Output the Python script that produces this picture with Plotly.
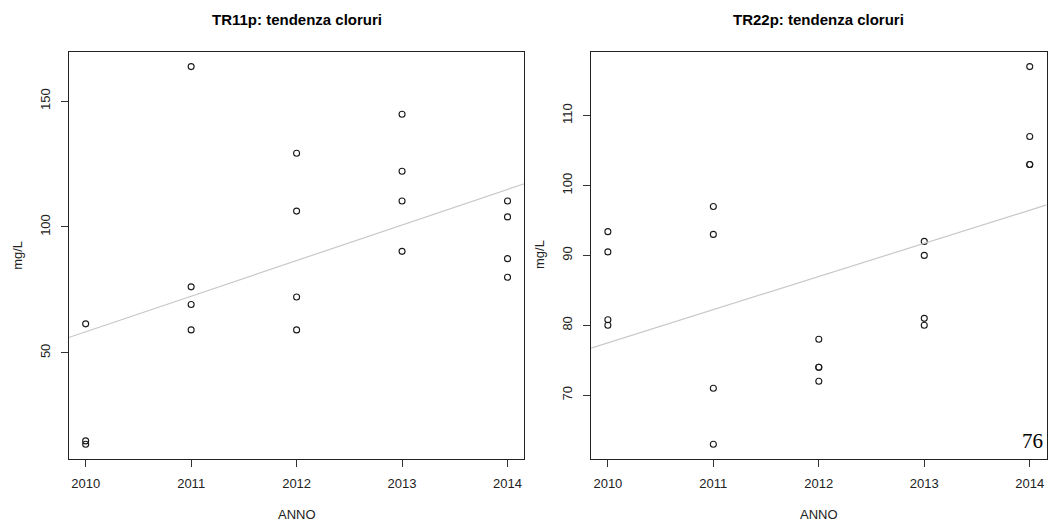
import numpy as np
import plotly.graph_objects as go

# ---- data ----
years = [2010, 2011, 2012, 2013, 2014]

tr11_year = [2010, 2010, 2010,
             2011, 2011, 2011, 2011,
             2012, 2012, 2012, 2012,
             2013, 2013, 2013, 2013,
             2014, 2014, 2014, 2014]
tr11_cl = [61.5, 15.0, 13.7,
           163.7, 76.2, 69.2, 59.1,
           129.3, 106.3, 72.2, 59.1,
           144.8, 122.1, 110.3, 90.3,
           110.3, 104.0, 87.4, 80.0]

tr22_year = [2010, 2010, 2010, 2010,
             2011, 2011, 2011, 2011,
             2012, 2012, 2012, 2012,
             2013, 2013, 2013, 2013,
             2014, 2014, 2014, 2014]
tr22_cl = [93.4, 90.5, 80.8, 80.0,
           97.0, 93.0, 71.0, 63.0,
           78.0, 74.0, 74.0, 72.0,
           92.0, 90.0, 81.0, 80.0,
           117.0, 107.0, 103.0, 103.0]

titles = ["TR11p: tendenza cloruri", "TR22p: tendenza cloruri"]
x_label = "ANNO"
y_label = "mg/L"
y_ticks_left = [50, 100, 150]
y_ticks_right = [70, 80, 90, 100, 110]
page_number = "76"

W, H = 1048, 523
FONT = "Liberation Sans, Arial, Helvetica, sans-serif"


def rlim(v):
    lo, hi = min(v), max(v)
    r = hi - lo
    return [lo - 0.04 * r, hi + 0.04 * r]


fig = go.Figure()

panels = [
    (tr11_year, tr11_cl, "x", "y"),
    (tr22_year, tr22_cl, "x2", "y2"),
]

xr = rlim(years)
for xs, ys, xa, ya in panels:
    fig.add_trace(go.Scatter(
        x=xs, y=ys, mode="markers", xaxis=xa, yaxis=ya,
        marker=dict(symbol="circle-open", size=6, color="#1a1a1a",
                    line=dict(width=1.1, color="#1a1a1a")),
        showlegend=False, hoverinfo="x+y"))
    slope, icpt = np.polyfit(xs, ys, 1)
    lx = np.array(xr)
    fig.add_trace(go.Scatter(
        x=lx, y=slope * lx + icpt, mode="lines", xaxis=xa, yaxis=ya,
        line=dict(color="#c8c8c8", width=1.2),
        showlegend=False, hoverinfo="skip"))

# plot-area pixel boxes
left_box = (68.8, 524.4)
right_box = (591.0, 1046.6)
top_px, bot_px = 51.5, 459.3
ydom = [1 - bot_px / H, 1 - top_px / H]

axis_common = dict(
    showline=True, linecolor="#222222", linewidth=1, mirror=True,
    ticks="outside", ticklen=7, tickwidth=1, tickcolor="#333333",
    showgrid=False, zeroline=False,
    tickfont=dict(family=FONT, size=13, color="#222222"),
    automargin=False,
)

fig.update_layout(
    width=W, height=H,
    margin=dict(l=0, r=0, t=0, b=0),
    paper_bgcolor="white", plot_bgcolor="white",
    xaxis=dict(domain=[left_box[0] / W, left_box[1] / W], range=xr,
               tickvals=years, anchor="y", ticklabelstandoff=5, **axis_common),
    yaxis=dict(domain=ydom, range=rlim(tr11_cl), tickvals=y_ticks_left,
               tickangle=-90, anchor="x", ticklabelstandoff=6, **axis_common),
    xaxis2=dict(domain=[right_box[0] / W, right_box[1] / W], range=xr,
                tickvals=years, anchor="y2", ticklabelstandoff=5, **axis_common),
    yaxis2=dict(domain=ydom, range=rlim(tr22_cl), tickvals=y_ticks_right,
                tickangle=-90, anchor="x2", ticklabelstandoff=6, **axis_common),
)

ann = []
for (bx0, bx1), t in [(left_box, titles[0]), (right_box, titles[1])]:
    cx = (bx0 + bx1) / 2 / W
    ann.append(dict(text="<b>" + t + "</b>", x=cx, y=1 - 19 / H, xref="paper", yref="paper",
                    showarrow=False, xanchor="center", yanchor="middle",
                    font=dict(family=FONT, size=15, color="black")))
    ann.append(dict(text=x_label, x=cx, y=1 - 514 / H, xref="paper", yref="paper",
                    showarrow=False, xanchor="center", yanchor="middle",
                    font=dict(family=FONT, size=13, color="#222222")))
    ann.append(dict(text=y_label, x=(bx0 - 52) / W, y=1 - 255 / H, xref="paper", yref="paper",
                    showarrow=False, xanchor="center", yanchor="middle", textangle=-90,
                    font=dict(family=FONT, size=13, color="#222222")))
ann.append(dict(text=page_number, x=1045 / W, y=1 - 441 / H, xref="paper", yref="paper",
                showarrow=False, xanchor="right", yanchor="middle",
                font=dict(family="Liberation Serif, Times New Roman, serif", size=21, color="black")))
fig.update_layout(annotations=ann)

fig.write_html("out.html", config={"displayModeBar": False},
               post_script="document.body.style.margin='0';document.body.style.overflow='hidden';")
